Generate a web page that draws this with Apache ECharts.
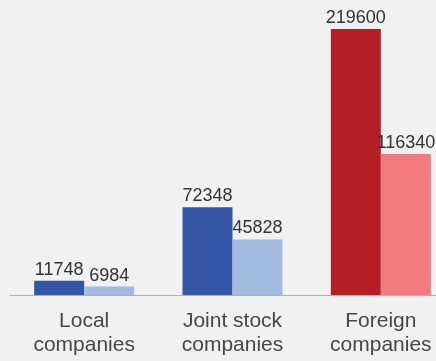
<!DOCTYPE html>
<html><head><meta charset="utf-8">
<script src="https://cdn.jsdelivr.net/npm/echarts@6/dist/echarts.min.js"></script>
<style>html,body{margin:0;padding:0;background:#f1f1f1;}#c{width:436px;height:361px;}</style>
</head><body><div id="c"></div>
<script>
const categories = ["Local\ncompanies", "Joint stock\ncompanies", "Foreign\ncompanies"];
const firstValues = [11748, 72348, 219600];
const secondValues = [6984, 45828, 116340];
const firstColors = ["#3556a6", "#3556a6", "#b31f24"];
const secondColors = ["#a3bbe0", "#a3bbe0", "#f17b7f"];

const chart = echarts.init(document.getElementById('c'));
const lbl = {show: true, position: 'top', distance: 2, color: '#333333', fontSize: 18, fontFamily: 'Liberation Sans, Arial, sans-serif'};
chart.setOption({
  backgroundColor: '#f1f1f1',
  animation: false,
  grid: {left: 10, width: 445, top: 29, bottom: 66, containLabel: false, outerBoundsMode: 'none'},
  xAxis: {
    type: 'category', data: categories,
    axisLine: {lineStyle: {color: '#b0b0b0'}},
    axisTick: {show: false},
    axisLabel: {color: '#474747', fontSize: 21, lineHeight: 24, margin: 14, fontFamily: 'Liberation Sans, Arial, sans-serif', interval: 0}
  },
  yAxis: {type: 'value', min: 0, max: 219600, show: false, splitLine: {show: false}},
  series: [
    {type: 'bar', barWidth: 50, barGap: '0%', data: firstValues.map((v, i) => ({value: v, itemStyle: {color: firstColors[i]}})), label: lbl},
    {type: 'bar', barWidth: 50, barGap: '0%', data: secondValues.map((v, i) => ({value: v, itemStyle: {color: secondColors[i]}})), label: lbl}
  ]
});
</script></body></html>
